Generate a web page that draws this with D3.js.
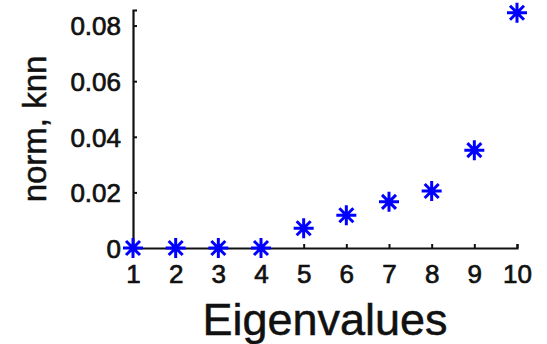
<!DOCTYPE html>
<html>
<head>
<meta charset="utf-8">
<script src="https://cdn.jsdelivr.net/npm/d3@7"></script>
<style>
  html, body { margin: 0; padding: 0; background: #fff; }
  svg { display: block; }
  text { font-family: "Liberation Sans", Arial, Helvetica, sans-serif; fill: #111; }
</style>
</head>
<body>
<svg id="chart" width="547" height="344"></svg>
<script>
// Eigenvalue index and the corresponding norm (knn)
const eigenIndex = [1, 2, 3, 4, 5, 6, 7, 8, 9, 10];
const normKnn = [0, 0, 0, 0, 0.0071, 0.0118, 0.0166, 0.0205, 0.0352, 0.0846];
const xTicks = [1, 2, 3, 4, 5, 6, 7, 8, 9, 10];
const yTicks = [0, 0.02, 0.04, 0.06, 0.08];
const yTickLabels = ["0", "0.02", "0.04", "0.06", "0.08"];
const xLabel = "Eigenvalues";
const yLabel = "norm, knn";

const svg = d3.select("#chart");
const x = d3.scaleLinear().domain([1, 10]).range([133, 517]);
const y = d3.scaleLinear().domain([0, 0.0856]).range([248, 10]);

// Axes: ticks point inward, no box
const xAxis = d3.axisBottom(x).tickValues(xTicks).tickSize(-4).tickPadding(17)
  .tickFormat(d3.format("d"));
const yAxis = d3.axisLeft(y).tickValues(yTicks).tickSize(-4).tickPadding(12)
  .tickFormat((d, i) => yTickLabels[i]);

const gx = svg.append("g").attr("transform", `translate(0,${y(0)})`).call(xAxis);
const gy = svg.append("g").attr("transform", `translate(${x(1)},0)`).call(yAxis);

[gx, gy].forEach(g => {
  g.select(".domain").attr("stroke", "#111").attr("stroke-width", 2.2);
  g.selectAll(".tick line").attr("stroke", "#111").attr("stroke-width", 2);
  g.selectAll(".tick text").attr("font-size", 26).attr("fill", "#111")
    .attr("stroke", "#111").attr("stroke-width", 0.7)
    .attr("font-family", "Liberation Sans, Arial, sans-serif");
});
gx.selectAll(".tick text").attr("dy", "0.71em");
gy.selectAll(".tick text").attr("dy", "0.36em");

// Axis titles
svg.append("text")
  .attr("x", (x.range()[0] + x.range()[1]) / 2)
  .attr("y", 335)
  .attr("text-anchor", "middle")
  .attr("font-size", 45)
  .attr("stroke", "#111").attr("stroke-width", 0.5)
  .text(xLabel);

svg.append("text")
  .attr("transform", `translate(46,${(y.range()[0] + y.range()[1]) / 2}) rotate(-90)`)
  .attr("text-anchor", "middle")
  .attr("font-size", 33)
  .attr("stroke", "#111").attr("stroke-width", 0.5)
  .text(yLabel);

// Asterisk markers
const arm = 10, diag = 7;
const star = `M${-arm},0L${arm},0M0,${-arm}L0,${arm}` +
  `M${-diag},${-diag}L${diag},${diag}M${-diag},${diag}L${diag},${-diag}`;

svg.append("g").selectAll("path")
  .data(eigenIndex.map((e, i) => ({ e, v: normKnn[i] })))
  .join("path")
  .attr("transform", d => `translate(${x(d.e)},${y(d.v)})`)
  .attr("d", star)
  .attr("stroke", "#0000ff")
  .attr("stroke-width", 3)
  .attr("fill", "none");
</script>
</body>
</html>
